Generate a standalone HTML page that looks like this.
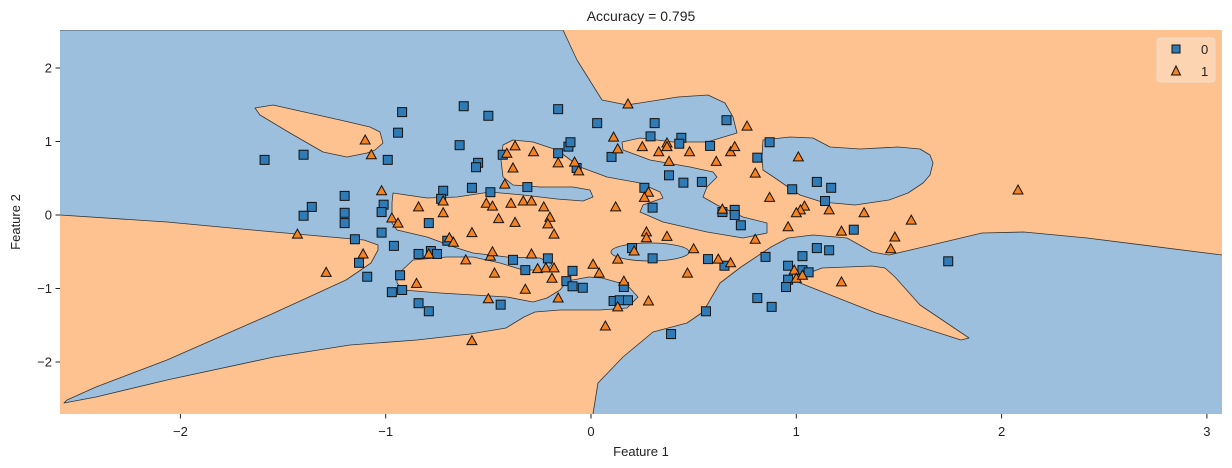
<!DOCTYPE html>
<html><head><meta charset="utf-8"><style>
body{margin:0;background:#fff;font-family:"Liberation Sans",sans-serif;}
svg{display:block}
text{font-family:"Liberation Sans",sans-serif;fill:#222}
</style></head><body>
<svg id="chart" width="1232" height="468" viewBox="0 0 1232 468">
<defs><clipPath id="pc"><rect x="60" y="30" width="1162" height="384"/></clipPath></defs>
<text x="641" y="21" text-anchor="middle" font-size="14">Accuracy = 0.795</text>
<g clip-path="url(#pc)">
<rect x="60" y="30" width="1162" height="384" fill="#fdc28f"/>
<g fill="#9bbfdd" stroke="#333" stroke-width="0.8" stroke-linejoin="round">
<polygon points="50,30 563,30 577,60 602,100 627,105 678,97 708,95 725,103 733,117 737,133 707,142 673,142 640,138 622,142 623,150 650,160 690,167 713,172 717,177 707,187 703,197 717,205 743,217 767,223 767,233 743,238 707,232 663,222 640,212 643,205 663,198 660,192 640,183 607,177 580,167 557,150 533,142 513,140 503,145 501,160 503,177 513,185 540,187 573,187 590,190 593,197 583,201 557,199 523,195 490,192 457,197 427,198 393,193 392,203 392,223 397,230 427,237 457,248 473,253 507,257 540,258 552,264 547,270 523,270 500,263 473,257 447,257 413,260 397,275 397,283 403,290 440,293 507,297 533,302 547,298 560,290 567,281 589,277 602,278 627,285 638,297 627,308 600,310 560,310 535,312 524,317 506,328 470,334 417,340 350,345 274,357 167,380 96,397 64,403 67,400 96,387 167,360 274,313 346,280 371,263 378,250 378,245 364,240 274,232 167,222 60,215 50,215"/>
<polygon points="592,420 598,383 623,357 653,332 687,323 703,312 720,283 741,267 771,247 788,238 813,235 847,238 872,252 889,255 919,248 982,233 1024,232 1087,238 1230,256 1230,420"/>
<polygon points="763,140 790,137 813,138 830,147 860,149 898,147 920,149 930,155 933,163 930,175 923,183 908,193 889,200 855,205 822,202 800,195 788,187 775,178 763,170 762,157"/>
<ellipse cx="650" cy="252" rx="39" ry="9"/>
</g>
<g fill="#fdc28f" stroke="#333" stroke-width="0.8" stroke-linejoin="round">
<polygon points="255,108 273,105 340,120 370,127 380,132 383,143 375,150 367,153 347,157 323,152 290,133 260,115"/>
<polygon points="796,278 822,268 872,266 885,268 895,277 920,305 969,338 961,340 876,313 800,283"/>
</g>
</g>
<g id="marks"></g>
<g id="axes"></g>
<g>
<rect x="1157" y="38" width="58" height="44" rx="3" fill="#fdd7b5" opacity="0.9" stroke="#e8e0d8"/>
<rect x="1172" y="45" width="8" height="8" fill="#2f7bb6" stroke="#111" stroke-width="1"/>
<text x="1201" y="54" font-size="13">0</text>
<polygon points="1176,66 1180.5,75 1171.5,75" fill="#f5821f" stroke="#111" stroke-width="1"/>
<text x="1201" y="76" font-size="13">1</text>
</g>
<text x="641" y="456" text-anchor="middle" font-size="13">Feature 1</text>
<text x="20" y="222" text-anchor="middle" font-size="13" transform="rotate(-90 20 222)">Feature 2</text>
</svg>
<script>
const xTicks=[-2,-1,0,1,2,3];
const yTicks=[-2,-1,0,1,2];
const class0X=[-0.62,-0.92,-0.50,-0.16,0.03,-0.94,-0.64,-1.40,-1.59,-0.99,-0.43,-0.16,-0.11,-0.10,-0.55,-0.56,-0.07,-1.20,-1.36,-1.40,-1.20,-1.20,-1.01,-1.02,-0.72,-0.73,-0.58,-0.49,-0.31,-0.79,-1.02,-1.15,-0.96,-1.13,-1.09,-0.84,-0.78,-0.75,-0.70,-0.38,-0.21,-0.32,-0.09,-0.12,-0.09,-0.04,-0.93,-0.97,-0.92,-0.84,-0.79,-0.44,0.31,0.66,0.29,0.44,0.43,0.58,0.10,0.81,0.87,0.38,0.45,0.54,0.26,0.30,0.64,0.70,0.70,0.73,0.98,1.10,1.17,1.14,1.28,0.20,0.30,0.57,0.65,0.85,1.03,1.10,1.16,0.96,1.03,1.06,0.96,0.95,0.81,0.88,0.56,0.39,0.16,0.11,0.14,0.18,1.74];
const class0Y=[1.48,1.40,1.35,1.44,1.25,1.12,0.95,0.82,0.75,0.75,0.82,0.84,0.93,0.99,0.71,0.65,0.64,0.26,0.11,-0.01,0.03,-0.11,0.14,0.04,0.33,0.22,0.37,0.31,0.38,-0.11,-0.24,-0.33,-0.42,-0.65,-0.84,-0.53,-0.49,-0.53,-0.35,-0.61,-0.59,-0.75,-0.76,-0.90,-0.97,-0.99,-0.82,-1.05,-1.02,-1.20,-1.31,-1.22,1.25,1.29,1.07,1.05,0.97,0.94,0.79,0.78,0.99,0.54,0.44,0.45,0.37,0.10,0.04,0.07,0.00,-0.14,0.35,0.45,0.37,0.19,-0.20,-0.45,-0.59,-0.60,-0.69,-0.57,-0.56,-0.45,-0.48,-0.69,-0.75,-0.78,-0.88,-0.98,-1.13,-1.25,-1.31,-1.62,-0.98,-1.17,-1.16,-1.16,-0.63];
const class1X=[-1.10,-1.07,-1.02,-0.97,-0.94,-1.43,-1.11,-1.29,-0.84,-0.72,-0.72,-0.51,-0.48,-0.39,-0.33,-0.29,-0.23,-0.20,-0.21,-0.18,-0.45,-0.37,-0.58,-0.69,-0.67,-0.41,-0.37,-0.28,-0.16,-0.08,-0.06,-0.38,-0.42,-0.79,-0.61,-0.49,-0.48,-0.29,-0.47,-0.26,-0.22,-0.18,-0.19,-0.32,-0.85,-0.50,-0.16,0.01,0.18,0.11,0.13,0.25,0.33,0.37,0.37,0.48,0.38,0.61,0.68,0.70,0.76,0.80,1.01,0.87,0.28,0.26,0.12,0.64,1.04,1.02,1.00,1.16,1.33,1.56,0.96,1.22,1.48,1.46,0.80,0.27,0.27,0.37,0.50,0.21,0.13,0.04,0.62,0.68,0.47,0.99,1.00,1.03,1.22,0.16,0.28,0.13,0.07,-0.58,2.08];
const class1Y=[1.02,0.82,0.33,-0.04,-0.11,-0.26,-0.53,-0.78,0.11,0.19,0.03,0.16,0.12,0.16,0.19,0.19,0.11,-0.03,-0.12,-0.26,-0.05,-0.10,-0.24,-0.31,-0.37,0.84,0.94,0.86,0.71,0.72,0.60,0.64,0.42,-0.53,-0.61,-0.56,-0.50,-0.53,-0.79,-0.73,-0.72,-0.72,-0.86,-1.01,-0.93,-1.14,-1.13,-0.67,1.51,1.06,0.90,0.93,0.86,0.98,0.93,0.86,0.73,0.73,0.86,0.93,1.21,0.57,0.79,0.24,0.31,0.24,0.11,0.08,0.12,0.07,0.03,0.07,0.03,-0.07,-0.16,-0.22,-0.30,-0.46,-0.33,-0.23,-0.31,-0.29,-0.46,-0.49,-0.60,-0.79,-0.60,-0.65,-0.79,-0.75,-0.86,-0.82,-0.91,-0.90,-1.17,-1.25,-1.51,-1.71,0.34];
const X0=591,XS=205.3,Y0=215,YS=73.5;
function sx(v){return X0+v*XS;}
function sy(v){return Y0-v*YS;}
const NS='http://www.w3.org/2000/svg';
const marks=document.getElementById('marks');
const axes=document.getElementById('axes');
for(let i=0;i<class0X.length;i++){
  const r=document.createElementNS(NS,'rect');
  r.setAttribute('x',sx(class0X[i])-4.5);r.setAttribute('y',sy(class0Y[i])-4.5);
  r.setAttribute('width',9);r.setAttribute('height',9);
  r.setAttribute('fill','#2f7bb6');r.setAttribute('stroke','#111');r.setAttribute('stroke-width','1');
  
  
  marks.appendChild(r);
}
for(let i=0;i<class1X.length;i++){
  const cx=sx(class1X[i]),cy=sy(class1Y[i]);
  const p=document.createElementNS(NS,'polygon');
  p.setAttribute('points',`${cx},${cy-5} ${cx+5},${cy+4} ${cx-5},${cy+4}`);
  p.setAttribute('fill','#f5821f');p.setAttribute('stroke','#111');p.setAttribute('stroke-width','1');
  
  
  marks.appendChild(p);
}
xTicks.forEach(t=>{
  const x=sx(t);
  const l=document.createElementNS(NS,'line');
  l.setAttribute('x1',x);l.setAttribute('x2',x);l.setAttribute('y1',414);l.setAttribute('y2',418.5);
  l.setAttribute('stroke','#222');
  
  
  axes.appendChild(l);
  const tx=document.createElementNS(NS,'text');
  tx.setAttribute('x',x);tx.setAttribute('y',436);tx.setAttribute('text-anchor','middle');tx.setAttribute('font-size','13');
  tx.textContent=t<0?'\u2212'+Math.abs(t):String(t);
  
  
  axes.appendChild(tx);
});
yTicks.forEach(t=>{
  const y=sy(t);
  const l=document.createElementNS(NS,'line');
  l.setAttribute('x1',55.5);l.setAttribute('x2',60);l.setAttribute('y1',y);l.setAttribute('y2',y);
  l.setAttribute('stroke','#222');
  
  
  axes.appendChild(l);
  const tx=document.createElementNS(NS,'text');
  tx.setAttribute('x',52);tx.setAttribute('y',y+4.5);tx.setAttribute('text-anchor','end');tx.setAttribute('font-size','13');
  tx.textContent=t<0?'\u2212'+Math.abs(t):String(t);
  
  
  axes.appendChild(tx);
});
</script>
</body></html>
